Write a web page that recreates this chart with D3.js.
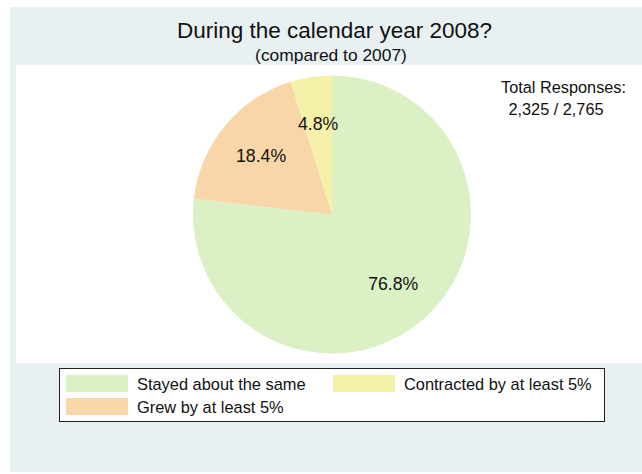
<!DOCTYPE html>
<html>
<head>
<meta charset="utf-8">
<script src="https://cdn.jsdelivr.net/npm/d3@7"></script>
<style>
html,body{margin:0;padding:0;background:#fff;}
svg{display:block;font-family:"Liberation Sans",Arial,sans-serif;}
</style>
</head>
<body>
<svg id="chart" width="642" height="474"></svg>
<script>
const categories = ["Stayed about the same", "Grew by at least 5%", "Contracted by at least 5%"];
const values = [76.8, 18.4, 4.8];
const colors = ["#dbf0c5", "#f8d6a8", "#f5f0a7"];
const titleText = "During the calendar year 2008?";
const subtitleText = "(compared to 2007)";
const totalLines = ["Total Responses:", "2,325 / 2,765"];
const legendOrder = [0, 2, 1];

const svg = d3.select("#chart");

// outer panel
svg.append("rect").attr("x", 10).attr("y", 7).attr("width", 632).attr("height", 465).attr("fill", "#e8f0f2");
// plot area
svg.append("rect").attr("x", 16).attr("y", 65).attr("width", 626).attr("height", 298).attr("fill", "#ffffff");

svg.append("text").attr("x", 334.5).attr("y", 38).attr("text-anchor", "middle")
  .attr("font-size", 22.5).attr("fill", "#111").text(titleText);
svg.append("text").attr("x", 331).attr("y", 61).attr("text-anchor", "middle")
  .attr("font-size", 17.4).attr("fill", "#111").text(subtitleText);

svg.append("text").attr("x", 626).attr("y", 93).attr("text-anchor", "end")
  .attr("font-size", 16.3).attr("fill", "#111").text(totalLines[0]);
svg.append("text").attr("x", 556).attr("y", 115).attr("text-anchor", "middle")
  .attr("font-size", 16.3).attr("fill", "#111").text(totalLines[1]);

const cx = 332, cy = 214.5, r = 139;
const data = categories.map((c, i) => ({cat: c, value: values[i], color: colors[i]}));
const pie = d3.pie().value(d => d.value).sort(null).startAngle(0).endAngle(2 * Math.PI);
const arcs = pie(data);
const arc = d3.arc().innerRadius(0).outerRadius(r);
const labelArc = d3.arc().innerRadius(92).outerRadius(92);

const g = svg.append("g").attr("transform", `translate(${cx},${cy})`);
g.selectAll("path").data(arcs).join("path")
  .attr("d", arc).attr("fill", d => d.data.color);
g.selectAll("text").data(arcs).join("text")
  .attr("transform", d => `translate(${labelArc.centroid(d)})`)
  .attr("text-anchor", "middle").attr("dy", "0.36em")
  .attr("font-size", 17.7).attr("fill", "#111")
  .text(d => d.data.value.toFixed(1) + "%");

// legend
const lg = svg.append("g");
lg.append("rect").attr("x", 59.5).attr("y", 368.5).attr("width", 545).attr("height", 53)
  .attr("fill", "#fff").attr("stroke", "#222").attr("stroke-width", 1);
const legPos = [[66, 375], [333, 375], [66, 398]];
legendOrder.forEach((idx, k) => {
  const [x, y] = legPos[k];
  lg.append("rect").attr("x", x).attr("y", y).attr("width", 62).attr("height", 17).attr("fill", colors[idx]);
  lg.append("text").attr("x", x + 71).attr("y", y + 14.5).attr("font-size", 16.4).attr("fill", "#111").text(categories[idx]);
});
</script>
</body>
</html>
